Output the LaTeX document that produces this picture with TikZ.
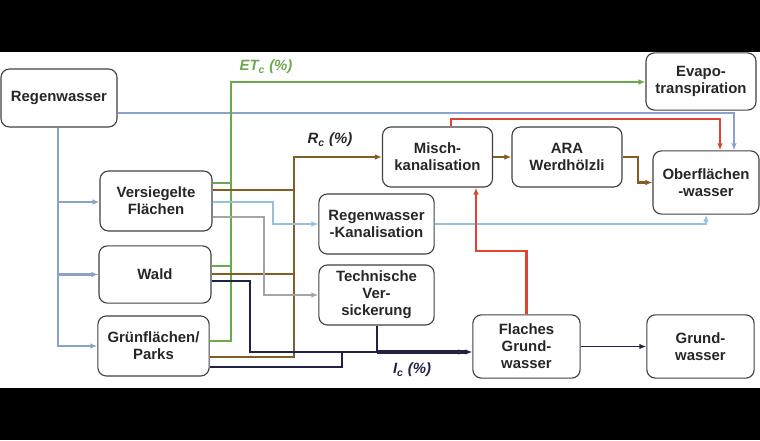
\documentclass[tikz,border=0pt]{standalone}
\usepackage{fontspec}
\setmainfont{Liberation Sans}
\usepackage{tikz}
\usetikzlibrary{arrows.meta, calc, positioning}
\definecolor{boxline}{RGB}{64,64,64}
\definecolor{rainblue}{RGB}{140,162,202}
\definecolor{sewerblue}{RGB}{150,192,224}
\definecolor{evapgreen}{RGB}{106,170,76}
\definecolor{runoffbrown}{RGB}{133,92,38}
\definecolor{infilgray}{RGB}{165,165,165}
\definecolor{groundnavy}{RGB}{34,34,72}
\definecolor{overflowred}{RGB}{222,68,48}
\tikzset{
    box/.style = {rectangle, rounded corners=6pt, draw=boxline, line width=0.8pt,
                  minimum width=2.75cm, minimum height=1.5cm, align=center,
                  inner sep=2pt, text=black!85,
                  font=\fontsize{10.6pt}{12.2pt}\selectfont\bfseries},
    lbl/.style = {font=\fontsize{10.6pt}{12.2pt}\selectfont\bfseries\itshape},
    rain/.style = {draw=rainblue, line width=1.6pt},
    sewer/.style = {draw=sewerblue, line width=1.5pt},
    evap/.style = {draw=evapgreen, line width=1.9pt},
    runoff/.style = {draw=runoffbrown, line width=2pt},
    infil/.style = {draw=infilgray, line width=1.6pt},
    ground/.style = {draw=groundnavy, line width=1.9pt},
    overflow/.style = {draw=overflowred, line width=1.8pt}
    }

\begin{document}
\begin{tikzpicture}[
      x = 0.025cm, y = -0.025cm, % pixel grid
      > = {Latex[length=5pt,width=4pt]}, % arrow head style
      semithick
    ]
    \useasboundingbox (0,0) rectangle (760,440);
    \fill[black] (0,0) rectangle (760,52);
    \fill[black] (0,388) rectangle (760,440);

    \node[box, minimum width=2.9cm, minimum height=1.45cm] (1) at (59,98) {Regenwasser};
    \node[box, minimum width=2.8cm] (2) at (156,201) {Versiegelte\\Flächen};
    \node[box, minimum width=2.8cm, minimum height=1.43cm] (3) at (155,274.5) {Wald};
    \node[box, minimum width=2.78cm] (4) at (153.5,346) {Grünflächen/\\Parks};
    \node[box, minimum width=2.88cm] (5) at (376.5,224) {Regenwasser\\-Kanalisation};
    \node[box, minimum width=2.88cm] (6) at (376.5,295) {Technische\\Ver-\\sickerung};
    \node[box] (7) at (437.5,157) {Misch-\\kanalisation};
    \node[box] (8) at (567,157) {ARA\\Werdhölzli};
    \node[box, minimum width=2.65cm, minimum height=1.58cm] (9) at (706,182.5) {Oberflächen\\-wasser};
    \node[box, minimum height=1.43cm] (10) at (701,81.5) {Evapo-\\transpiration};
    \node[box, minimum width=2.68cm, minimum height=1.58cm] (11) at (526.5,346.5) {Flaches\\Grund-\\wasser};
    \node[box, minimum width=2.68cm, minimum height=1.58cm] (12) at (700.5,346.5) {Grund-\\wasser};

    \node[lbl, text=evapgreen] (et) at (266,67) {ET\textsubscript{c} (\%)};
    \node[lbl, text=black!85] (rc) at (330,140) {R\textsubscript{c} (\%)};
    \node[lbl, text=groundnavy] (ic) at (412,370) {I\textsubscript{c} (\%)};

    % Regenwasser
    \draw[rain, ->] (1.east |- 0,113) -| (734,0 |- 9.north);
    \draw[rain, ->] (1.south -| 58,0) |- (2.west |- 0,202);
    \draw[rain, ->] (1.south -| 58,0) |- (3.west);
    \draw[rain, ->] (1.south -| 58,0) |- (4.west);

    % Evapotranspiration
    \draw[evap, ->] (4.east |- 0,341) -| (231,82) -- (10.west |- 0,82);
    \draw[evap] (2.east |- 0,183) -- (231,183);
    \draw[evap] (3.east |- 0,266) -- (231,266);

    % Oberflaechenabfluss
    \draw[runoff, ->] (4.east |- 0,357) -| (294,157) -- (7.west);
    \draw[runoff] (2.east |- 0,190) -- (294,190);
    \draw[runoff] (3.east |- 0,274) -- (294,274);
    \draw[runoff, ->] (7.east) -- (8.west);
    \draw[runoff, ->] (8.east) -- (638,157) |- (9.west);

    % Regenwasser-Kanalisation, Versickerung
    \draw[sewer, ->] (2.east |- 0,202) -| (273,224) -- (5.west);
    \draw[sewer, ->] (5.east) -| (9.south);
    \draw[infil, ->] (2.east |- 0,217) -| (264,295) -- (6.west);

    % Infiltration
    \coordinate (join) at (377,352);
    \draw[ground] (3.east |- 0,281) -| (250,352) -- (join);
    \draw[ground] (4.east |- 0,367) -| (342,352);
    \draw[ground] (6.south -| 377,0) -- (join);
    \draw[ground, line width=2.8pt, ->>] (join) -- (11.west |- 0,352);
    \draw[ground, line width=1.2pt, ->] (11.east) -- (12.west);

    % Exfiltration, Entlastung
    \draw[overflow, ->] (11.north) |- (476,251) -- (476,0 |- 7.south);
    \draw[overflow, ->] (451,0 |- 7.north) |- (720,119) -- (720,0 |- 9.north);

\end{tikzpicture}
\end{document}
